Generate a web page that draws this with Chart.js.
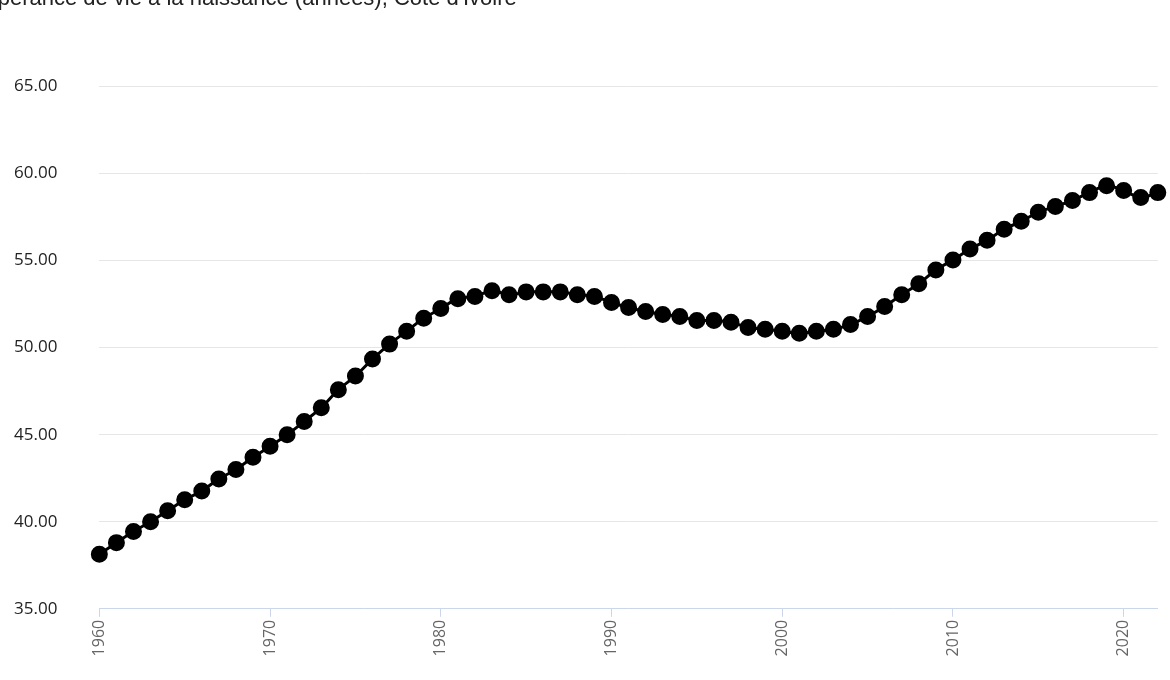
<!DOCTYPE html>
<html>
<head>
<meta charset="utf-8">
<script src="https://cdn.jsdelivr.net/npm/chart.js@4"></script>
<style>
  body { margin: 0; background: #fff; }
  #wrap { width: 1170px; height: 680px; overflow: hidden; position: relative; }
  #box { position: absolute; left: -28px; top: -14px; width: 1208px; height: 675px; }
</style>
</head>
<body>
<div id="wrap"><div id="box"><canvas id="lifeChart"></canvas></div></div>
<script>
const years = [];
for (let y = 1960; y <= 2022; y++) years.push(String(y));

const lifeExpectancy = [
  38.13, 38.80, 39.44, 40.00, 40.63, 41.26, 41.77, 42.46, 43.00, 43.70,
  44.33, 45.00, 45.76, 46.55, 47.58, 48.37, 49.34, 50.20, 50.94, 51.68,
  52.24, 52.81, 52.93, 53.27, 53.04, 53.20, 53.20, 53.20, 53.04, 52.93,
  52.59, 52.30, 52.07, 51.90, 51.79, 51.56, 51.56, 51.45, 51.16, 51.05,
  50.94, 50.82, 50.94, 51.05, 51.33, 51.79, 52.36, 53.04, 53.67, 54.46,
  55.03, 55.66, 56.17, 56.80, 57.25, 57.77, 58.10, 58.45, 58.90, 59.30,
  59.02, 58.62, 58.90
];

const titleText = "Espérance de vie à la naissance (années), Côte d'Ivoire";

var ctx = document.getElementById("lifeChart");
var lifeChart = new Chart(ctx, {
    type: 'line',
    data: {
        labels: years,
        datasets: [{
            data: lifeExpectancy,
            borderColor: '#000',
            backgroundColor: '#000',
            borderWidth: 3,
            pointRadius: 7,
            pointHoverRadius: 7,
            tension: 0.4,
        }],
    },
    options: {
        responsive: true,
        maintainAspectRatio: false,
        animation: false,
        layout: { padding: { left: 0, right: 0, top: 0, bottom: 0 } },
        plugins: {
            legend: { display: false },
            tooltip: { enabled: false },
            title: {
                display: true,
                text: titleText,
                align: 'start',
                color: '#222',
                font: { family: 'Liberation Sans', size: 22, weight: 'normal' },
                padding: { top: 0, bottom: 74 },
            },
        },
        scales: {
            y: {
                min: 35,
                max: 65,
                ticks: {
                    stepSize: 5,
                    color: '#222',
                    font: { family: 'Open Sans', size: 17 },
                    callback: v => v.toFixed(2),
                    padding: 42,
                },
                grid: { color: '#e6e6e6', drawTicks: false },
                border: { display: false },
            },
            x: {
                offset: false,
                ticks: {
                    autoSkip: false,
                    maxRotation: 90,
                    minRotation: 90,
                    color: '#666',
                    font: { family: 'Open Sans', size: 16 },
                    callback: function (v) {
                        const y = Number(this.getLabelForValue(v));
                        return y % 10 === 0 ? String(y) : '';
                    },
                },
                grid: {
                    display: true,
                    drawOnChartArea: false,
                    color: ctx2 => (Number(years[ctx2.index]) % 10 === 0 ? '#ccd6eb' : 'rgba(0,0,0,0)'),
                    tickLength: 8,
                },
                border: { display: true, color: '#ccd6eb', width: 1 },
            },
        },
    },
});
</script>
</body>
</html>
